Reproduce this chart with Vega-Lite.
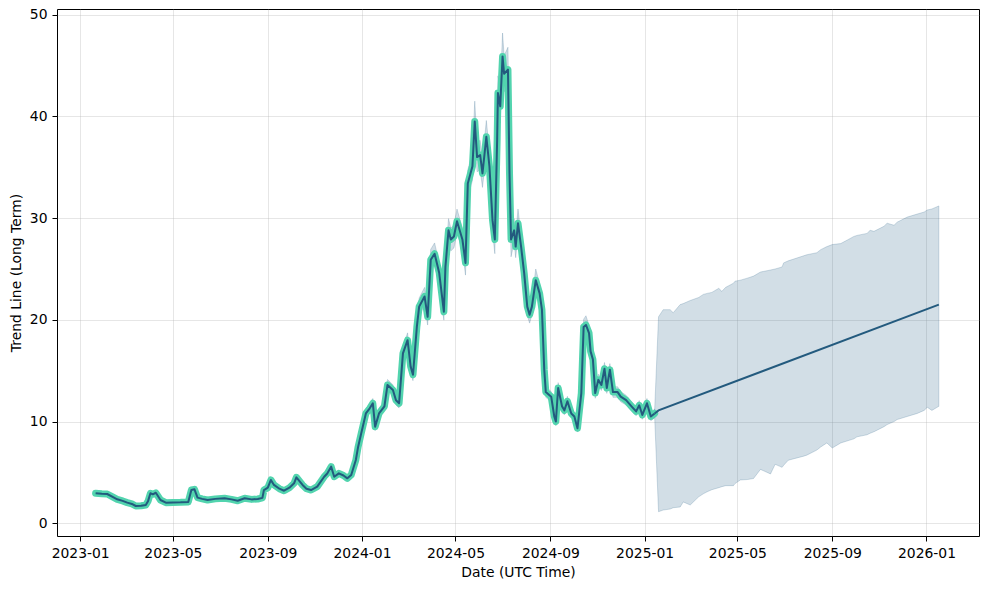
{
  "$schema": "https://vega.github.io/schema/vega-lite/v6.json",
  "width": 922,
  "height": 527,
  "autosize": {"type": "none"},
  "padding": {"left": 57, "top": 9, "right": 10, "bottom": 53},
  "background": "white",
  "config": {
    "view": {"stroke": "black", "strokeWidth": 1},
    "axis": {
      "labelFont": "DejaVu Sans", "labelFontSize": 13.9, "labelColor": "black",
      "titleFont": "DejaVu Sans", "titleFontSize": 13.9, "titleFontWeight": "normal", "titleColor": "black",
      "tickColor": "black", "tickSize": 5, "tickWidth": 1, "labelPadding": 5, "titlePadding": 6,
      "gridColor": "#b0b0b0", "gridOpacity": 0.4, "gridWidth": 0.8, "domain": false,
      "labelFlush": false, "labelOverlap": false
    }
  },
  "datasets": {
    "hist": [
      {"date": "2023-01-21", "y": 2.95, "lo": 2.83, "hi": 3.07},
      {"date": "2023-01-29", "y": 2.9, "lo": 2.78, "hi": 3.02},
      {"date": "2023-02-05", "y": 2.88, "lo": 2.76, "hi": 3.0},
      {"date": "2023-02-12", "y": 2.6, "lo": 2.5, "hi": 2.7},
      {"date": "2023-02-18", "y": 2.36, "lo": 2.27, "hi": 2.45},
      {"date": "2023-02-25", "y": 2.2, "lo": 2.11, "hi": 2.29},
      {"date": "2023-03-03", "y": 2.03, "lo": 1.95, "hi": 2.11},
      {"date": "2023-03-09", "y": 1.9, "lo": 1.82, "hi": 1.98},
      {"date": "2023-03-14", "y": 1.7, "lo": 1.63, "hi": 1.77},
      {"date": "2023-03-21", "y": 1.72, "lo": 1.65, "hi": 1.79},
      {"date": "2023-03-27", "y": 1.8, "lo": 1.73, "hi": 1.87},
      {"date": "2023-03-30", "y": 2.2, "lo": 2.11, "hi": 2.29},
      {"date": "2023-04-02", "y": 2.95, "lo": 2.83, "hi": 3.07},
      {"date": "2023-04-05", "y": 2.85, "lo": 2.74, "hi": 2.96},
      {"date": "2023-04-09", "y": 3.0, "lo": 2.88, "hi": 3.12},
      {"date": "2023-04-15", "y": 2.29, "lo": 2.2, "hi": 2.38},
      {"date": "2023-04-22", "y": 2.03, "lo": 1.95, "hi": 2.11},
      {"date": "2023-05-01", "y": 2.05, "lo": 1.97, "hi": 2.13},
      {"date": "2023-05-11", "y": 2.06, "lo": 1.98, "hi": 2.14},
      {"date": "2023-05-21", "y": 2.1, "lo": 2.02, "hi": 2.18},
      {"date": "2023-05-25", "y": 3.27, "lo": 3.14, "hi": 3.4},
      {"date": "2023-05-29", "y": 3.34, "lo": 3.21, "hi": 3.47},
      {"date": "2023-06-02", "y": 2.52, "lo": 2.42, "hi": 2.62},
      {"date": "2023-06-08", "y": 2.4, "lo": 2.3, "hi": 2.5},
      {"date": "2023-06-15", "y": 2.29, "lo": 2.2, "hi": 2.38},
      {"date": "2023-06-25", "y": 2.4, "lo": 2.3, "hi": 2.5},
      {"date": "2023-07-07", "y": 2.46, "lo": 2.36, "hi": 2.56},
      {"date": "2023-07-16", "y": 2.35, "lo": 2.26, "hi": 2.44},
      {"date": "2023-07-24", "y": 2.22, "lo": 2.13, "hi": 2.31},
      {"date": "2023-08-02", "y": 2.46, "lo": 2.36, "hi": 2.56},
      {"date": "2023-08-11", "y": 2.35, "lo": 2.26, "hi": 2.44},
      {"date": "2023-08-19", "y": 2.39, "lo": 2.29, "hi": 2.49},
      {"date": "2023-08-25", "y": 2.5, "lo": 2.4, "hi": 2.6},
      {"date": "2023-08-27", "y": 3.27, "lo": 3.14, "hi": 3.4},
      {"date": "2023-09-01", "y": 3.5, "lo": 3.36, "hi": 3.64},
      {"date": "2023-09-05", "y": 4.26, "lo": 4.09, "hi": 4.43},
      {"date": "2023-09-09", "y": 3.77, "lo": 3.62, "hi": 3.92},
      {"date": "2023-09-16", "y": 3.4, "lo": 3.26, "hi": 3.54},
      {"date": "2023-09-22", "y": 3.2, "lo": 3.07, "hi": 3.33},
      {"date": "2023-09-29", "y": 3.5, "lo": 3.36, "hi": 3.64},
      {"date": "2023-10-05", "y": 3.93, "lo": 3.77, "hi": 4.09},
      {"date": "2023-10-08", "y": 4.52, "lo": 4.34, "hi": 4.7},
      {"date": "2023-10-16", "y": 3.77, "lo": 3.62, "hi": 3.92},
      {"date": "2023-10-21", "y": 3.4, "lo": 3.26, "hi": 3.54},
      {"date": "2023-10-27", "y": 3.27, "lo": 3.14, "hi": 3.4},
      {"date": "2023-11-04", "y": 3.6, "lo": 3.46, "hi": 3.74},
      {"date": "2023-11-13", "y": 4.58, "lo": 4.4, "hi": 4.76},
      {"date": "2023-11-17", "y": 4.9, "lo": 4.7, "hi": 5.1},
      {"date": "2023-11-22", "y": 5.57, "lo": 5.35, "hi": 5.79},
      {"date": "2023-11-26", "y": 4.58, "lo": 4.4, "hi": 4.76},
      {"date": "2023-12-02", "y": 4.91, "lo": 4.71, "hi": 5.11},
      {"date": "2023-12-08", "y": 4.7, "lo": 4.51, "hi": 4.89},
      {"date": "2023-12-13", "y": 4.42, "lo": 4.24, "hi": 4.6},
      {"date": "2023-12-18", "y": 4.75, "lo": 4.56, "hi": 4.94},
      {"date": "2023-12-24", "y": 6.22, "lo": 5.97, "hi": 6.47},
      {"date": "2023-12-27", "y": 7.53, "lo": 7.23, "hi": 7.83},
      {"date": "2023-12-31", "y": 8.85, "lo": 8.5, "hi": 9.2},
      {"date": "2024-01-06", "y": 10.8, "lo": 10.37, "hi": 11.23},
      {"date": "2024-01-11", "y": 11.3, "lo": 10.85, "hi": 11.75},
      {"date": "2024-01-15", "y": 11.8, "lo": 11.33, "hi": 12.27},
      {"date": "2024-01-18", "y": 9.5, "lo": 9.12, "hi": 9.88},
      {"date": "2024-01-23", "y": 10.8, "lo": 10.37, "hi": 11.23},
      {"date": "2024-01-30", "y": 11.5, "lo": 11.04, "hi": 11.96},
      {"date": "2024-02-03", "y": 13.6, "lo": 13.06, "hi": 14.14},
      {"date": "2024-02-10", "y": 13.1, "lo": 12.58, "hi": 13.62},
      {"date": "2024-02-14", "y": 12.1, "lo": 11.62, "hi": 12.58},
      {"date": "2024-02-18", "y": 11.8, "lo": 11.33, "hi": 12.27},
      {"date": "2024-02-23", "y": 16.7, "lo": 16.03, "hi": 17.37},
      {"date": "2024-02-29", "y": 18.0, "lo": 17.28, "hi": 18.72},
      {"date": "2024-03-04", "y": 15.4, "lo": 14.78, "hi": 16.02},
      {"date": "2024-03-07", "y": 14.6, "lo": 14.02, "hi": 15.18},
      {"date": "2024-03-12", "y": 19.3, "lo": 18.53, "hi": 20.07},
      {"date": "2024-03-15", "y": 21.3, "lo": 20.45, "hi": 22.15},
      {"date": "2024-03-22", "y": 22.3, "lo": 21.41, "hi": 23.19},
      {"date": "2024-03-26", "y": 20.3, "lo": 19.49, "hi": 21.11},
      {"date": "2024-03-30", "y": 25.9, "lo": 24.86, "hi": 26.94},
      {"date": "2024-04-04", "y": 26.5, "lo": 25.44, "hi": 27.56},
      {"date": "2024-04-10", "y": 24.6, "lo": 23.62, "hi": 25.58},
      {"date": "2024-04-16", "y": 20.8, "lo": 19.97, "hi": 21.63},
      {"date": "2024-04-18", "y": 25.2, "lo": 24.19, "hi": 26.21},
      {"date": "2024-04-22", "y": 28.8, "lo": 27.65, "hi": 29.95},
      {"date": "2024-04-25", "y": 27.9, "lo": 26.78, "hi": 29.02},
      {"date": "2024-04-29", "y": 28.2, "lo": 27.07, "hi": 29.33},
      {"date": "2024-05-03", "y": 29.7, "lo": 28.51, "hi": 30.89},
      {"date": "2024-05-10", "y": 27.9, "lo": 26.78, "hi": 29.02},
      {"date": "2024-05-14", "y": 25.6, "lo": 24.4, "hi": 26.62},
      {"date": "2024-05-17", "y": 33.4, "lo": 32.06, "hi": 34.74},
      {"date": "2024-05-23", "y": 35.1, "lo": 33.7, "hi": 36.5},
      {"date": "2024-05-26", "y": 39.5, "lo": 37.92, "hi": 41.5},
      {"date": "2024-05-29", "y": 36.0, "lo": 34.56, "hi": 37.44},
      {"date": "2024-06-02", "y": 36.2, "lo": 34.75, "hi": 37.65},
      {"date": "2024-06-05", "y": 34.4, "lo": 33.02, "hi": 35.78},
      {"date": "2024-06-10", "y": 38.0, "lo": 36.48, "hi": 39.6},
      {"date": "2024-06-14", "y": 35.1, "lo": 33.7, "hi": 36.5},
      {"date": "2024-06-18", "y": 29.8, "lo": 28.61, "hi": 30.99},
      {"date": "2024-06-21", "y": 27.9, "lo": 26.5, "hi": 29.02},
      {"date": "2024-06-24", "y": 37.7, "lo": 36.19, "hi": 39.21},
      {"date": "2024-06-25", "y": 42.3, "lo": 40.61, "hi": 43.99},
      {"date": "2024-06-28", "y": 41.0, "lo": 39.36, "hi": 42.64},
      {"date": "2024-07-01", "y": 45.9, "lo": 44.06, "hi": 48.2},
      {"date": "2024-07-03", "y": 44.2, "lo": 42.43, "hi": 45.97},
      {"date": "2024-07-08", "y": 44.6, "lo": 42.82, "hi": 46.8},
      {"date": "2024-07-10", "y": 34.4, "lo": 33.02, "hi": 35.78},
      {"date": "2024-07-12", "y": 27.9, "lo": 26.2, "hi": 29.02},
      {"date": "2024-07-16", "y": 28.8, "lo": 27.65, "hi": 29.95},
      {"date": "2024-07-18", "y": 27.2, "lo": 26.11, "hi": 28.29},
      {"date": "2024-07-21", "y": 29.5, "lo": 28.32, "hi": 30.9},
      {"date": "2024-07-25", "y": 27.2, "lo": 26.11, "hi": 28.29},
      {"date": "2024-07-29", "y": 24.6, "lo": 23.62, "hi": 25.58},
      {"date": "2024-08-02", "y": 21.3, "lo": 20.45, "hi": 22.15},
      {"date": "2024-08-05", "y": 20.5, "lo": 19.68, "hi": 21.32},
      {"date": "2024-08-08", "y": 21.3, "lo": 20.45, "hi": 22.15},
      {"date": "2024-08-13", "y": 23.9, "lo": 22.94, "hi": 25.0},
      {"date": "2024-08-18", "y": 22.6, "lo": 21.7, "hi": 23.5},
      {"date": "2024-08-21", "y": 21.0, "lo": 20.16, "hi": 21.84},
      {"date": "2024-08-24", "y": 15.1, "lo": 14.5, "hi": 15.7},
      {"date": "2024-08-26", "y": 12.9, "lo": 12.38, "hi": 13.42},
      {"date": "2024-09-02", "y": 12.45, "lo": 11.95, "hi": 12.95},
      {"date": "2024-09-06", "y": 10.5, "lo": 10.08, "hi": 10.92},
      {"date": "2024-09-08", "y": 10.0, "lo": 9.6, "hi": 10.4},
      {"date": "2024-09-11", "y": 13.3, "lo": 12.77, "hi": 13.83},
      {"date": "2024-09-16", "y": 11.5, "lo": 11.04, "hi": 11.96},
      {"date": "2024-09-19", "y": 11.1, "lo": 10.66, "hi": 11.54},
      {"date": "2024-09-23", "y": 12.0, "lo": 11.52, "hi": 12.48},
      {"date": "2024-09-28", "y": 10.8, "lo": 10.37, "hi": 11.23},
      {"date": "2024-10-02", "y": 10.5, "lo": 10.08, "hi": 10.92},
      {"date": "2024-10-06", "y": 9.34, "lo": 8.97, "hi": 9.71},
      {"date": "2024-10-11", "y": 12.8, "lo": 12.29, "hi": 13.31},
      {"date": "2024-10-14", "y": 19.3, "lo": 18.53, "hi": 20.07},
      {"date": "2024-10-17", "y": 19.5, "lo": 18.72, "hi": 20.4},
      {"date": "2024-10-21", "y": 18.7, "lo": 17.95, "hi": 19.45},
      {"date": "2024-10-23", "y": 16.9, "lo": 16.22, "hi": 17.58},
      {"date": "2024-10-26", "y": 16.1, "lo": 15.46, "hi": 16.74},
      {"date": "2024-10-29", "y": 12.8, "lo": 12.29, "hi": 13.31},
      {"date": "2024-11-02", "y": 14.1, "lo": 13.54, "hi": 14.66},
      {"date": "2024-11-06", "y": 13.6, "lo": 13.06, "hi": 14.14},
      {"date": "2024-11-10", "y": 15.2, "lo": 14.59, "hi": 15.81},
      {"date": "2024-11-13", "y": 13.3, "lo": 12.77, "hi": 13.83},
      {"date": "2024-11-17", "y": 15.1, "lo": 14.5, "hi": 15.7},
      {"date": "2024-11-21", "y": 12.9, "lo": 12.38, "hi": 13.42},
      {"date": "2024-11-27", "y": 12.9, "lo": 12.38, "hi": 13.42},
      {"date": "2024-12-01", "y": 12.45, "lo": 11.95, "hi": 12.95},
      {"date": "2024-12-08", "y": 12.1, "lo": 11.62, "hi": 12.58},
      {"date": "2024-12-15", "y": 11.5, "lo": 11.04, "hi": 11.96},
      {"date": "2024-12-21", "y": 11.0, "lo": 10.56, "hi": 11.44},
      {"date": "2024-12-25", "y": 11.6, "lo": 11.14, "hi": 12.06},
      {"date": "2024-12-29", "y": 10.65, "lo": 10.22, "hi": 11.08},
      {"date": "2025-01-04", "y": 11.8, "lo": 11.33, "hi": 12.27},
      {"date": "2025-01-09", "y": 10.5, "lo": 10.08, "hi": 10.92},
      {"date": "2025-01-14", "y": 10.8, "lo": 10.37, "hi": 11.23}
    ],
    "fcband": [
      {"date": "2025-01-14", "lo": 10.37, "hi": 11.23},
      {"date": "2025-01-19", "lo": 1.14, "hi": 20.3},
      {"date": "2025-01-25", "lo": 1.3, "hi": 21.0},
      {"date": "2025-02-03", "lo": 1.4, "hi": 21.0},
      {"date": "2025-02-07", "lo": 1.53, "hi": 20.7},
      {"date": "2025-02-16", "lo": 1.6, "hi": 21.5},
      {"date": "2025-02-20", "lo": 2.1, "hi": 21.6},
      {"date": "2025-03-01", "lo": 1.8, "hi": 21.9},
      {"date": "2025-03-12", "lo": 2.6, "hi": 22.2},
      {"date": "2025-03-18", "lo": 2.9, "hi": 22.5},
      {"date": "2025-03-23", "lo": 3.1, "hi": 22.6},
      {"date": "2025-03-29", "lo": 3.3, "hi": 22.7},
      {"date": "2025-04-07", "lo": 3.5, "hi": 23.1},
      {"date": "2025-04-11", "lo": 3.6, "hi": 22.8},
      {"date": "2025-04-16", "lo": 3.7, "hi": 23.2},
      {"date": "2025-04-26", "lo": 3.7, "hi": 23.6},
      {"date": "2025-04-28", "lo": 3.9, "hi": 23.8},
      {"date": "2025-05-05", "lo": 4.26, "hi": 23.9},
      {"date": "2025-05-14", "lo": 4.3, "hi": 24.1},
      {"date": "2025-05-22", "lo": 4.4, "hi": 24.3},
      {"date": "2025-05-31", "lo": 5.3, "hi": 24.7},
      {"date": "2025-06-13", "lo": 4.85, "hi": 24.9},
      {"date": "2025-06-19", "lo": 5.8, "hi": 25.0},
      {"date": "2025-06-28", "lo": 5.5, "hi": 25.2},
      {"date": "2025-06-30", "lo": 5.7, "hi": 25.6},
      {"date": "2025-07-06", "lo": 6.2, "hi": 25.8},
      {"date": "2025-07-26", "lo": 6.6, "hi": 26.3},
      {"date": "2025-07-30", "lo": 6.7, "hi": 26.4},
      {"date": "2025-08-12", "lo": 7.2, "hi": 26.6},
      {"date": "2025-08-17", "lo": 7.5, "hi": 26.9},
      {"date": "2025-08-25", "lo": 7.9, "hi": 27.2},
      {"date": "2025-09-01", "lo": 7.4, "hi": 27.4},
      {"date": "2025-09-12", "lo": 7.9, "hi": 27.5},
      {"date": "2025-09-29", "lo": 8.3, "hi": 28.2},
      {"date": "2025-10-03", "lo": 8.5, "hi": 28.3},
      {"date": "2025-10-16", "lo": 8.7, "hi": 28.5},
      {"date": "2025-10-20", "lo": 8.85, "hi": 28.8},
      {"date": "2025-10-25", "lo": 9.0, "hi": 28.7},
      {"date": "2025-11-07", "lo": 9.5, "hi": 29.2},
      {"date": "2025-11-11", "lo": 9.7, "hi": 29.5},
      {"date": "2025-11-20", "lo": 10.0, "hi": 29.3},
      {"date": "2025-11-24", "lo": 10.2, "hi": 29.6},
      {"date": "2025-12-07", "lo": 10.5, "hi": 30.1},
      {"date": "2025-12-20", "lo": 10.8, "hi": 30.4},
      {"date": "2025-12-29", "lo": 11.1, "hi": 30.6},
      {"date": "2026-01-02", "lo": 11.4, "hi": 30.8},
      {"date": "2026-01-08", "lo": 11.1, "hi": 30.9},
      {"date": "2026-01-17", "lo": 11.5, "hi": 31.2}
    ],
    "fcline": [
      {"date": "2025-01-14", "yhat": 10.8},
      {"date": "2025-01-19", "yhat": 11.1},
      {"date": "2026-01-17", "yhat": 21.5}
    ]
  },
  "layer": [
    {
      "data": {"name": "hist"},
      "mark": {"type": "area", "color": "#1f5a80", "fillOpacity": 0.2, "stroke": "#1f5a80", "strokeOpacity": 0.2, "strokeWidth": 1},
      "encoding": {
        "x": {
          "field": "date", "type": "temporal", "title": "Date (UTC Time)",
          "scale": {"type": "utc", "domain": [{"year": 2022, "month": 12, "date": 2, "utc": true}, {"year": 2026, "month": 3, "date": 10, "utc": true}]},
          "axis": {
            "format": "%Y-%m", "grid": true,
            "values": [
              {"year": 2023, "month": 1, "date": 1, "utc": true},
              {"year": 2023, "month": 5, "date": 1, "utc": true},
              {"year": 2023, "month": 9, "date": 1, "utc": true},
              {"year": 2024, "month": 1, "date": 1, "utc": true},
              {"year": 2024, "month": 5, "date": 1, "utc": true},
              {"year": 2024, "month": 9, "date": 1, "utc": true},
              {"year": 2025, "month": 1, "date": 1, "utc": true},
              {"year": 2025, "month": 5, "date": 1, "utc": true},
              {"year": 2025, "month": 9, "date": 1, "utc": true},
              {"year": 2026, "month": 1, "date": 1, "utc": true}
            ]
          }
        },
        "y": {
          "field": "lo", "type": "quantitative", "title": "Trend Line (Long Term)",
          "scale": {"domain": [-1.25, 50.56], "nice": false, "zero": false},
          "axis": {"values": [0, 10, 20, 30, 40, 50], "grid": true}
        },
        "y2": {"field": "hi"}
      }
    },
    {
      "data": {"name": "fcband"},
      "mark": {"type": "area", "color": "#1f5a80", "fillOpacity": 0.2, "stroke": "#1f5a80", "strokeOpacity": 0.2, "strokeWidth": 1},
      "encoding": {
        "x": {"field": "date", "type": "temporal", "title": "Date (UTC Time)"},
        "y": {"field": "lo", "type": "quantitative", "title": "Trend Line (Long Term)"},
        "y2": {"field": "hi"}
      }
    },
    {
      "data": {"name": "hist"},
      "mark": {"type": "line", "color": "#52d4ae", "strokeWidth": 7, "strokeJoin": "round", "strokeCap": "round"},
      "encoding": {
        "x": {"field": "date", "type": "temporal", "title": "Date (UTC Time)"},
        "y": {"field": "y", "type": "quantitative", "title": "Trend Line (Long Term)"}
      }
    },
    {
      "data": {"name": "hist"},
      "mark": {"type": "line", "color": "#235a7e", "strokeWidth": 2, "strokeJoin": "round"},
      "encoding": {
        "x": {"field": "date", "type": "temporal", "title": "Date (UTC Time)"},
        "y": {"field": "y", "type": "quantitative", "title": "Trend Line (Long Term)"}
      }
    },
    {
      "data": {"name": "fcline"},
      "mark": {"type": "line", "color": "#235a7e", "strokeWidth": 2},
      "encoding": {
        "x": {"field": "date", "type": "temporal", "title": "Date (UTC Time)"},
        "y": {"field": "yhat", "type": "quantitative", "title": "Trend Line (Long Term)"}
      }
    }
  ]
}
